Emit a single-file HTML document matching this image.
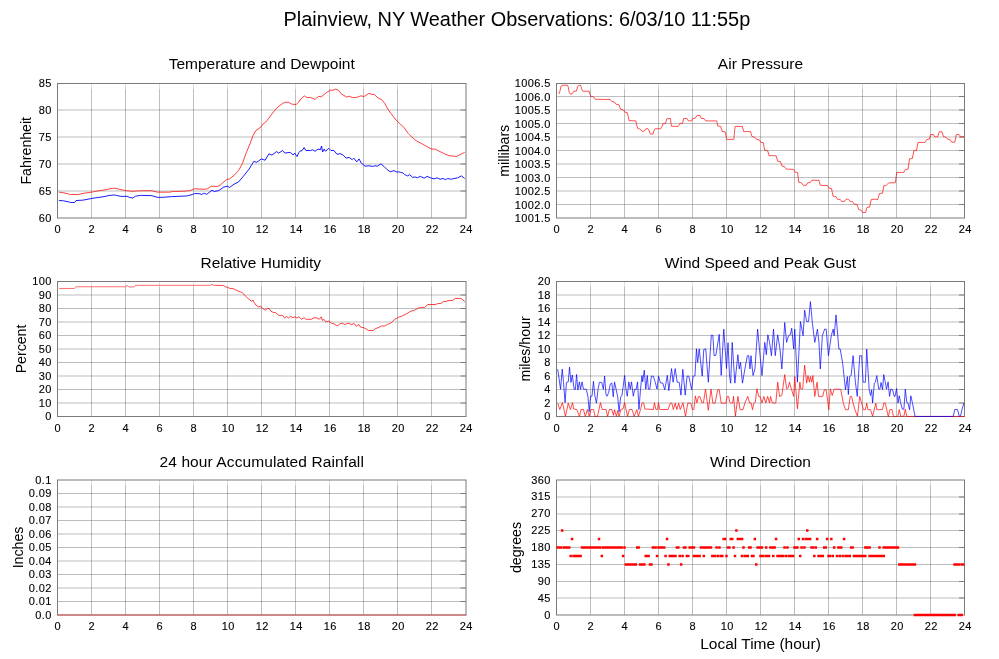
<!DOCTYPE html>
<html><head><meta charset="utf-8"><title>Plainview, NY Weather Observations</title>
<style>
html,body{margin:0;padding:0;background:#fff;}
svg{display:block;}
text{font-family:"Liberation Sans",sans-serif;fill:#000;}
.t{font-size:11px;letter-spacing:.4px;stroke:#000;stroke-width:.12px;}
.h{font-size:15.5px;}
.y{font-size:14px;}
.T{font-size:19.9px;}
.m{text-anchor:middle;}
.e{text-anchor:end;}
.g{stroke:#555;stroke-opacity:.39;stroke-width:1;fill:none;}
.b{stroke:#7a7a7a;stroke-width:1;fill:none;}
.k{stroke:#7a7a7a;stroke-width:1;fill:none;}
.w{stroke:#fff;stroke-opacity:.5;stroke-width:1;fill:none;}
.c{fill:none;stroke-linejoin:round;}
</style></head><body>
<svg width="999" height="659" viewBox="0 0 999 659">
<rect width="999" height="659" fill="#fff"/>
<text x="516.9" y="26" class="T m">Plainview, NY Weather Observations: 6/03/10 11:55p</text>
<g>
<path d="M57.5 191H466.0M57.5 164H466.0M57.5 137H466.0M57.5 110H466.0" class="g"/>
<path d="M91.5 83.5V218.0M125.5 83.5V218.0M159.5 83.5V218.0M193.5 83.5V218.0M227.5 83.5V218.0M261.5 83.5V218.0M295.5 83.5V218.0M329.5 83.5V218.0M363.5 83.5V218.0M397.5 83.5V218.0M431.5 83.5V218.0" class="g"/>
<path d="M460.5 191H466.0M460.5 164H466.0M460.5 137H466.0M460.5 110H466.0" class="k"/>
<path d="M91.5 84.0v5M125.5 84.0v5M159.5 84.0v5M193.5 84.0v5M227.5 84.0v5M261.5 84.0v5M295.5 84.0v5M329.5 84.0v5M363.5 84.0v5M397.5 84.0v5M431.5 84.0v5" class="w"/>
<rect x="57.5" y="83.5" width="408.5" height="134.5" class="b"/>
<polyline points="58.92,192.14 63.41,192.7 69.01,194.1 70.42,194.52 78.12,194.52 83.03,193.4 91.72,192.14 97.04,191.02 104.05,190.04 108.95,188.92 113.86,188.22 116.66,188.5 119.46,189.34 125.77,190.6 132.08,191.3 140.49,190.74 151.7,190.74 157.3,192.14 169.91,192.14 172.72,191.44 181.13,191.3 186.73,191.02 189.53,190.6 190,190.58 194.55,188.76 199.1,189.06 205.17,189.21 207.45,188.76 211.24,186.18 217.31,186.48 220.34,184.97 226.41,179.66 229.45,178.9 234,175.56 238.55,170.55 242.34,163.72 246.14,153.1 249.93,144 252.97,135.66 256,130.34 259.79,128.07 262.83,124.28 265.86,122 270.41,115.93 276.48,108.34 281.03,104.55 284.83,102.28 288.62,102.28 291.66,104.1 296.21,104.55 298.48,102.28 300.62,98.97 304.41,95.93 306.69,97.45 310.48,97.45 315.03,99.42 318.83,96.23 321.1,96.99 326.41,92.59 330.21,90.32 333.24,90.17 335.52,89.1 338.55,90.32 341.59,94.11 346.9,97.14 349.17,96.23 352.21,97.45 356.76,97.45 360.55,95.93 364.34,96.39 368.9,93.35 371.93,94.41 374.21,94.41 378,97.9 381.79,99.72 384.83,103.52 388.62,110.34 393.17,116.41 396.21,120.21 398.94,122.79 400.63,124.29 404.42,128.08 408.22,133.4 412.77,137.95 416.57,140.99 421.88,143.72 426.43,146.3 430.99,148.88 435.54,149.34 440.09,151.61 444.65,153.89 449.2,155.71 453.76,156.17 456.79,156.47 460.59,154.35 464.69,152.37" stroke="#ff0000" stroke-width="0.75" class="c"/><polyline points="58.92,200.41 63.41,200.83 69.01,201.95 70.42,202.51 74.62,202.51 76.02,200.55 83.03,200.13 91.72,198.45 97.04,197.61 104.05,196.63 108.95,195.51 113.86,194.94 116.66,195.51 120.87,196.35 127.17,196.35 129.27,197.33 132.78,198.03 135.58,196.21 140.49,195.37 151.7,195.65 157.3,197.33 162.91,197.33 171.32,196.63 181.13,196.21 186.73,195.93 189.53,195.23 190,195.28 194.55,193.61 199.1,193.61 201.38,194.37 204.41,193.31 206.69,194.37 212,190.28 214.28,191.49 218.83,190.58 223.38,187.24 227.17,186.18 229.45,187.54 234,184.21 238.55,181.93 243.1,176.62 249.17,169.03 251.45,165.24 253.72,161.45 256.76,162.21 259.03,160.69 261.31,158.87 265.1,160.23 268.9,153.86 271.93,155.08 276.48,151.59 278.76,153.1 282.55,150.52 284.83,153.1 290.14,152.34 293.17,154.92 294.69,153.1 296.97,156.59 298.94,152.34 299.86,151.31 302.14,150.55 304.11,147.52 305.93,150.55 310.48,150.55 312.76,149.79 315.03,151.31 318.07,149.03 320.34,149.79 321.56,146 322.62,152.07 324.14,149.03 325.66,151.31 328.69,148.28 330.97,150.55 334,150.55 337.03,154.34 340.07,153.59 343.1,155.1 346.14,158.14 349.17,157.38 352.21,159.66 353.72,158.14 356.76,161.93 359.03,158.9 361.31,163.14 365.1,166.18 368.9,165.72 372.69,166.48 374.97,165.72 377.24,166.18 381.03,163.9 384.07,166.48 387.1,169.52 390.14,171.79 393.93,170.58 396.97,172.1 398.94,171.79 400.63,172.41 402.9,172.87 404.42,174.38 407.46,175.9 409.73,174.69 412.77,177.42 415.05,176.96 417.32,177.72 420.36,176.36 424.16,178.18 427.19,176.36 430.23,177.72 434.02,178.94 437.06,177.87 440.09,179.24 443.13,178.48 445.41,179.7 447.69,178.48 450.72,179.24 453.76,178.63 457.55,177.87 461.35,175.9 464.69,178.48" stroke="#0000ff" stroke-width="0.9" class="c"/>
<text x="57.7" y="233" class="t m">0</text>
<text x="91.7" y="233" class="t m">2</text>
<text x="125.7" y="233" class="t m">4</text>
<text x="159.7" y="233" class="t m">6</text>
<text x="193.7" y="233" class="t m">8</text>
<text x="228.2" y="233" class="t m">10</text>
<text x="262.2" y="233" class="t m">12</text>
<text x="296.2" y="233" class="t m">14</text>
<text x="330.2" y="233" class="t m">16</text>
<text x="364.2" y="233" class="t m">18</text>
<text x="398.2" y="233" class="t m">20</text>
<text x="432.2" y="233" class="t m">22</text>
<text x="466.2" y="233" class="t m">24</text>
<text x="51.8" y="222" class="t e">60</text>
<text x="51.8" y="195" class="t e">65</text>
<text x="51.8" y="168" class="t e">70</text>
<text x="51.8" y="141" class="t e">75</text>
<text x="51.8" y="114" class="t e">80</text>
<text x="51.8" y="87" class="t e">85</text>
<text x="261.75" y="69.0" class="h m">Temperature and Dewpoint</text>
<text transform="translate(31.1,150.75) rotate(-90) scale(1.01,0.98)" class="y m">Fahrenheit</text>
</g>
<g>
<path d="M556.5 204.5H964.5M556.5 191H964.5M556.5 177.5H964.5M556.5 164H964.5M556.5 150.5H964.5M556.5 137H964.5M556.5 123.5H964.5M556.5 110H964.5M556.5 96.5H964.5" class="g"/>
<path d="M590.5 83.5V218.0M624.5 83.5V218.0M658.5 83.5V218.0M692.5 83.5V218.0M726.5 83.5V218.0M760.5 83.5V218.0M794.5 83.5V218.0M828.5 83.5V218.0M862.5 83.5V218.0M896.5 83.5V218.0M930.5 83.5V218.0" class="g"/>
<path d="M959.0 204.5H964.5M959.0 191H964.5M959.0 177.5H964.5M959.0 164H964.5M959.0 150.5H964.5M959.0 137H964.5M959.0 123.5H964.5M959.0 110H964.5M959.0 96.5H964.5" class="k"/>
<path d="M590.5 84.0v5M624.5 84.0v5M658.5 84.0v5M692.5 84.0v5M726.5 84.0v5M760.5 84.0v5M794.5 84.0v5M828.5 84.0v5M862.5 84.0v5M896.5 84.0v5M930.5 84.0v5" class="w"/>
<rect x="556.5" y="83.5" width="408.0" height="134.5" class="b"/>
<polyline points="558.85,94.09 559.95,91.01 561.06,86.06 562.16,85.29 567.66,85.29 568.43,87.71 569.31,92.66 570.42,94.09 572.07,93.76 573.72,91.34 576.47,91.01 577.57,86.61 578.67,85.29 580.55,85.29 581.43,87.71 582.31,90.79 583.08,91.23 589.13,91.23 590.02,94.31 590.79,96.52 593.54,96.74 595.19,99.27 610.06,99.49 611.71,101.47 614.46,102.02 616.11,104.22 618.86,104.77 620.52,109.18 623.27,109.95 624.92,112.26 627.12,112.48 628.22,116.34 628.99,120.52 635.93,120.96 636.7,125.15 637.8,128.45 639.78,129 641.99,131.2 644.19,131.2 645.84,128.78 648.04,128.78 649.47,131.2 650.25,133.95 653,134.17 654.1,130.1 655.2,128.78 660.71,128.78 662.03,126.25 662.91,123.82 664.01,123.6 665.51,123.34 666.83,118.72 670.46,118.5 671.34,126.21 678.17,126.43 679.82,123.45 682.57,123.34 683.67,118.5 686.98,118.5 688.41,120.92 691.38,120.92 692.81,118.5 695.24,118.17 696.89,115.64 699.86,115.42 701.29,118.39 704.04,118.5 705.7,120.92 716.71,120.92 717.81,126.1 720.78,126.43 722.21,131.38 725.3,131.93 726.62,139.42 733.77,139.42 735.1,126.43 742.36,126.43 743.68,131.6 750.51,131.6 751.94,136.56 754.69,137.11 756.35,139.31 759.1,139.64 760.75,142.39 763.28,142.61 764.6,150.1 767.69,150.65 769.01,155.61 776.17,155.78 777.75,161.25 780.54,161.61 782,166.1 784.43,166.47 786.25,169.14 793.53,169.38 795.11,172.17 797.54,172.42 798.75,182.25 801.42,182.74 803.25,185.29 806.28,185.29 807.49,182.86 810.17,182.49 811.74,180.31 819.03,180.31 820.24,185.29 827.53,185.53 829.11,188.32 831.53,188.57 832.99,196.09 836.03,196.7 837.6,199.25 840.28,199.49 841.73,201.56 844.53,201.31 846.1,199.25 848.53,199.25 849.99,201.31 852.42,201.56 854.24,204.11 857.03,204.35 858.73,209.57 860.92,210.06 862.74,212.48 865.53,212.48 866.99,207.38 869.66,207.14 871.24,199.49 874.27,199.25 877.71,199.49 879.53,193.42 882.56,193.18 883.78,185.78 886.2,185.53 888.63,182.86 895.31,182.74 896.76,172.43 903.8,172.43 905.38,169.39 908.05,169.15 909.5,158.83 912.3,158.59 913.87,150.58 916.54,150.34 918,142.45 925.04,142.45 926.86,139.42 929.29,139.17 930.86,134.56 933.53,134.56 934.99,136.99 937.78,136.75 939.36,131.77 942.03,131.77 943.49,136.63 945.67,136.99 947.49,139.17 949.92,139.42 951.74,142.21 954.77,142.21 956.35,134.56 959.02,134.56 960.84,136.75 963.87,136.99" stroke="#ff0000" stroke-width="0.68" class="c"/>
<text x="556.7" y="233" class="t m">0</text>
<text x="590.7" y="233" class="t m">2</text>
<text x="624.7" y="233" class="t m">4</text>
<text x="658.7" y="233" class="t m">6</text>
<text x="692.7" y="233" class="t m">8</text>
<text x="727.2" y="233" class="t m">10</text>
<text x="761.2" y="233" class="t m">12</text>
<text x="795.2" y="233" class="t m">14</text>
<text x="829.2" y="233" class="t m">16</text>
<text x="863.2" y="233" class="t m">18</text>
<text x="897.2" y="233" class="t m">20</text>
<text x="931.2" y="233" class="t m">22</text>
<text x="965.2" y="233" class="t m">24</text>
<text x="550.8" y="222" class="t e">1001.5</text>
<text x="550.8" y="209" class="t e">1002.0</text>
<text x="550.8" y="195" class="t e">1002.5</text>
<text x="550.8" y="182" class="t e">1003.0</text>
<text x="550.8" y="168" class="t e">1003.5</text>
<text x="550.8" y="155" class="t e">1004.0</text>
<text x="550.8" y="141" class="t e">1004.5</text>
<text x="550.8" y="128" class="t e">1005.0</text>
<text x="550.8" y="114" class="t e">1005.5</text>
<text x="550.8" y="101" class="t e">1006.0</text>
<text x="550.8" y="87" class="t e">1006.5</text>
<text x="760.5" y="69.0" class="h m">Air Pressure</text>
<text transform="translate(509.3,150.75) rotate(-90) scale(1.01,0.98)" class="y m">millibars</text>
</g>
<g>
<path d="M57.5 403H466.0M57.5 389.5H466.0M57.5 376H466.0M57.5 362.5H466.0M57.5 349H466.0M57.5 335.5H466.0M57.5 322H466.0M57.5 308.5H466.0M57.5 295H466.0" class="g"/>
<path d="M91.5 281.5V416.5M125.5 281.5V416.5M159.5 281.5V416.5M193.5 281.5V416.5M227.5 281.5V416.5M261.5 281.5V416.5M295.5 281.5V416.5M329.5 281.5V416.5M363.5 281.5V416.5M397.5 281.5V416.5M431.5 281.5V416.5" class="g"/>
<path d="M460.5 403H466.0M460.5 389.5H466.0M460.5 376H466.0M460.5 362.5H466.0M460.5 349H466.0M460.5 335.5H466.0M460.5 322H466.0M460.5 308.5H466.0M460.5 295H466.0" class="k"/>
<path d="M91.5 282.0v5M125.5 282.0v5M159.5 282.0v5M193.5 282.0v5M227.5 282.0v5M261.5 282.0v5M295.5 282.0v5M329.5 282.0v5M363.5 282.0v5M397.5 282.0v5M431.5 282.0v5" class="w"/>
<rect x="57.5" y="281.5" width="408.5" height="135.0" class="b"/>
<polyline points="59.2,288.45 74.34,288.45 76.02,286.77 125.42,286.77 127.1,285.51 128.99,286.98 133.83,286.98 135.93,285.3 210.56,285.3 212.03,284.25 213.71,285.3 214.76,285.3" stroke="#ff0000" stroke-width="0.58" class="c"/><polyline points="214.76,285.3 223.46,285.47 225.41,286.77 228.01,287.42 229.96,288.59 233.22,288.59 235.82,290.02 239.07,291.45 242.33,292.62 245.58,296.27 248.83,299.13 251.44,301.21 253.13,300.17 254.04,302.38 255.99,305.12 258.59,306.94 260.55,306.03 262.5,308.37 265.1,310.19 267.7,308.37 269.39,308.63 270.96,311.23 273.56,312.53 275.51,312.53 278.76,315.4 282.67,315.4 284.62,318 286.57,316.44 288.52,318 290.48,316.44 293.08,317.74 295.03,316.7 296.98,318.13 298.93,316.83 301.54,319.3 304.14,317.74 306.09,319.3 311.3,319.3 313.9,317.74 317.15,318 319.1,319.3 321.32,316.83 322.36,320.34 324.05,319.43 325.61,321.9 328.86,320.99 331.47,323.33 334.07,323.85 336.93,325.94 338.62,324.89 340,323.78 342.6,323.39 345.21,324.69 347.16,323.39 349.76,323.65 351.71,324.69 354.05,323.39 356.27,326.25 358.87,324.43 360.82,327.29 363.42,327.55 366.03,328.85 368.63,330.55 373.18,330.55 375.14,328.85 379.04,327.29 381.64,325.99 384.89,325.99 387.5,324.43 390.75,323.13 394.65,319.48 398.56,317.27 402.46,315.84 406.37,313.89 410.27,311.42 414.17,310.38 418.08,308.16 421.33,307.38 424.58,307.38 427.84,304.52 435.65,304.52 437.6,303.61 440.85,303.48 443.45,301.53 446.06,301.53 448.01,300.62 452.56,300.62 455.17,298.4 461.02,298.4 462.97,299.96 464.92,301.66" stroke="#ff0000" stroke-width="0.75" class="c"/>
<text x="57.7" y="432" class="t m">0</text>
<text x="91.7" y="432" class="t m">2</text>
<text x="125.7" y="432" class="t m">4</text>
<text x="159.7" y="432" class="t m">6</text>
<text x="193.7" y="432" class="t m">8</text>
<text x="228.2" y="432" class="t m">10</text>
<text x="262.2" y="432" class="t m">12</text>
<text x="296.2" y="432" class="t m">14</text>
<text x="330.2" y="432" class="t m">16</text>
<text x="364.2" y="432" class="t m">18</text>
<text x="398.2" y="432" class="t m">20</text>
<text x="432.2" y="432" class="t m">22</text>
<text x="466.2" y="432" class="t m">24</text>
<text x="51.8" y="420" class="t e">0</text>
<text x="51.8" y="407" class="t e">10</text>
<text x="51.8" y="393" class="t e">20</text>
<text x="51.8" y="380" class="t e">30</text>
<text x="51.8" y="366" class="t e">40</text>
<text x="51.8" y="353" class="t e">50</text>
<text x="51.8" y="339" class="t e">60</text>
<text x="51.8" y="326" class="t e">70</text>
<text x="51.8" y="312" class="t e">80</text>
<text x="51.8" y="299" class="t e">90</text>
<text x="51.8" y="285" class="t e">100</text>
<text x="260.75" y="268.0" class="h m">Relative Humidity</text>
<text transform="translate(26.2,349) rotate(-90) scale(1.01,0.98)" class="y m">Percent</text>
</g>
<g>
<path d="M556.5 403H964.5M556.5 389.5H964.5M556.5 376H964.5M556.5 362.5H964.5M556.5 349H964.5M556.5 335.5H964.5M556.5 322H964.5M556.5 308.5H964.5M556.5 295H964.5" class="g"/>
<path d="M590.5 281.5V416.5M624.5 281.5V416.5M658.5 281.5V416.5M692.5 281.5V416.5M726.5 281.5V416.5M760.5 281.5V416.5M794.5 281.5V416.5M828.5 281.5V416.5M862.5 281.5V416.5M896.5 281.5V416.5M930.5 281.5V416.5" class="g"/>
<path d="M959.0 403H964.5M959.0 389.5H964.5M959.0 376H964.5M959.0 362.5H964.5M959.0 349H964.5M959.0 335.5H964.5M959.0 322H964.5M959.0 308.5H964.5M959.0 295H964.5" class="k"/>
<path d="M590.5 282.0v5M624.5 282.0v5M658.5 282.0v5M692.5 282.0v5M726.5 282.0v5M760.5 282.0v5M794.5 282.0v5M828.5 282.0v5M862.5 282.0v5M896.5 282.0v5M930.5 282.0v5" class="w"/>
<rect x="556.5" y="281.5" width="408.0" height="135.0" class="b"/>
<polyline points="557.66,403.13 559.78,409.5 562.44,402.6 565.41,416.41 568.28,403.13 570.41,409.5 572.53,402.6 573.6,408.97 576.78,409.5 579.44,416.41 581.03,409.5 583.48,409.5 585.28,416.41 587.41,409.5 589.21,416.41 590.91,409.5 593.47,409.5 595.17,416.41 597.5,416.41 600.48,402.6 602.28,409.5 606,409.5 607.6,416.41 609.4,409.5 611.85,409.5 613.44,415.35 614.5,409.5 616.42,416.41 617.69,410.57 619.07,416.41 620.88,409.5 623,408.97 624.6,402.6 627.57,416.41 629.38,409.5 632.04,409.5 634.16,416.41 636.82,409.5 638.41,416.41 640.54,409.5 642.13,402.6 643.72,403.13 644.79,408.97 653.36,409.54 654.42,402.72 655.94,409.54 657.45,409.54 658.52,402.72 659.73,409.54 668.08,409.54 670.35,403.17 671.87,403.17 673.39,409.54 675.21,403.17 676.88,409.54 678.7,403.17 680.22,409.54 682.95,402.72 685.53,416.37 687.81,403.17 690.84,403.17 692.36,409.54 693.88,409.54 695.4,395.89 696.91,402.72 698.43,396.64 699.95,396.64 701.92,402.72 703.44,402.72 705.56,389.06 708.3,410.3 711.03,389.06 712.85,403.17 715.13,403.17 717.71,389.81 719.22,389.81 721.2,403.17 725.75,403.17 727.27,396.34 728.79,396.64 729.54,401.96 730.69,403.06 732.58,403.06 733.53,396.42 735.43,416.33 737.89,396.42 740.17,409.69 743.01,409.69 744.91,403.06 747.75,396.42 749.64,403.06 751.16,403.06 752.49,409.69 753.82,403.06 755.33,402.11 756.85,388.84 758.74,396.42 760.07,396.42 761.97,403.06 763.86,396.42 765.76,403.06 767.65,396.42 769.55,403.06 770.5,396.42 772.39,403.06 775.81,403.06 777.7,382.2 779.6,396.42 781.87,395.47 784.72,374.62 786.61,388.84 788.13,387.89 789.45,382.2 791.35,388.84 793.63,396.42 794.76,376.52 797.42,408.74 799.88,382.2 800.83,388.84 802.73,388.84 804.62,365.14 806.64,383.15 807.96,375.57 809.48,382.2 810.43,376.52 811.75,382.2 812.89,375.57 814.79,396.42 817.06,382.2 818.58,396.42 822.75,396.42 824.27,389.79 826.16,389.79 828.82,409.69 830.33,388.84 832.23,395.47 834.12,389.22 840.76,389.22 843.22,403.06 845.5,409.69 848.34,409.69 850.24,396.42 851.56,396.42 853.08,403.06 854.98,409.69 857.44,416.33 859.72,396.42 861.61,403.06 863.51,409.69 865.4,409.69 866.73,403.06 867.87,409.69 870.52,409.69 872.61,416.33 875.83,403.06 876.78,409.69 878.67,409.69 882.52,409.52 883.74,403.09 885.31,403.09 888.35,417.04 889.8,409.76 891.99,409.52 893.44,416.44 897.81,416.44 899.27,409.52 900.72,416.44 903.88,416.19 905.33,409.16 906.79,416.44 964.54,416.44" stroke="#ff0000" stroke-width="0.7" class="c"/><polyline points="557.66,369.13 558.72,376.03 560.53,389.32 562.23,369.13 563.5,382.41 565.09,402.6 566.48,382.41 568.28,381.88 569.56,367 570.94,382.41 572.32,374.97 574.13,389.32 575.4,389.32 576.57,374.44 577.85,389.85 579.44,381.88 580.5,389.32 582.1,381.88 583.48,389.1 586.35,389.32 587.94,396.75 589.21,411.63 590.6,396.22 591.98,396.22 593.47,381.35 594.85,395.69 596.44,403.13 598.03,389.32 599.42,382.41 601.75,382.41 603.35,389.32 604.62,376.03 606,394.63 607.07,396.22 608.66,392.5 610.25,384 611.85,382.94 613.23,396.75 614.5,381.88 616.1,389.32 617.69,396.75 619.07,411.63 620.67,396.75 621.94,395.69 624.6,375.5 625.98,389.32 627.26,396.22 628.85,381.88 630.23,389.32 631.51,381.88 633.31,396.22 634.69,389.32 636.29,389.32 637.56,381.88 638.94,409.5 640.54,389.32 641.92,375.5 642.66,381.88 644.26,370.19 645.77,389.06 647.28,375.4 648.35,389.06 649.87,389.06 651.38,376.16 653.36,376.16 655.18,382.23 657,389.06 658.52,376.16 660.49,382.98 662.77,382.98 664.74,389.81 667.32,375.4 668.84,390.57 671.57,368.57 673.09,382.23 675.21,368.57 677.18,382.23 679.16,382.23 680.98,395.13 682.8,369.33 685.23,395.13 687.05,376.16 688.87,376.16 691.6,389.81 693.12,376.16 694.94,375.85 696.46,348.84 697.67,362.5 699.19,348.84 702.23,376.16 703.74,349.6 705.72,348.84 708.3,382.23 711.33,335.18 712.85,335.18 714.06,355.67 715.89,355.21 719.22,334.42 721.2,375.4 723.78,329.11 726.51,368.57 728.03,342.77 729.54,376.16 730.69,383.15 732.2,342.39 734.86,383.15 737.89,354.72 739.22,368.93 740.55,362.3 742.44,383.15 744.91,368.93 747.37,355.66 748.7,355.66 750.02,368.93 750.97,355.66 753.06,375.57 754.95,368.93 757.61,329.12 760.07,355.66 761.97,375.57 764.81,342.39 766.33,354.72 767.84,334.81 769.55,342.39 771.45,355.66 773.53,329.12 775.24,355.66 777.7,334.81 779.98,349.03 781.87,368.93 784.72,322.49 786.61,342.39 788.51,335.76 790.4,334.81 791.73,328.18 793.63,349.03 794.76,329.12 797.42,382.2 800.45,321.54 803.1,335.76 804.62,310.17 806.64,321.54 808.53,321.54 810.43,301.64 812.32,322.49 814.79,342.39 817.44,329.12 818.96,342.39 820.28,368.93 822.37,335.76 824.64,329.12 826.16,329.12 828.44,355.66 831.28,335.76 833.18,329.12 834.12,335.76 836.02,314.91 838.86,349.03 840.19,349.03 842.65,363.25 845.5,389.79 847.39,376.52 848.34,394.53 849.67,376.52 851.18,375.57 853.08,355.66 855.36,382.2 857.25,396.42 859.72,355.66 861.61,355.66 863.13,382.2 865.4,382.2 866.73,349.03 869.19,389.79 870.52,395.47 871.66,389.79 872.61,403.06 874.31,383.15 875.45,382.2 876.78,375.57 878.67,388.84 879.85,389.14 881.07,382.46 882.52,389.74 883.74,374.58 885.31,382.46 886.53,389.14 888.1,381.86 889.56,396.42 890.77,389.14 892.59,389.74 894.17,396.42 895.02,396.42 896.6,388.53 898.05,403.09 899.27,395.81 900.72,403.09 902.3,409.16 903.88,409.16 905.33,389.14 906.79,402.48 908,403.09 909.58,409.76 910.79,395.81 912.37,402.48 915.04,416.44 953.26,416.44 954.83,409.52 957.5,409.52 959.32,416.44 960.54,415.83 962.11,409.16 963.93,403.09" stroke="#0000ff" stroke-width="0.7" class="c"/>
<text x="556.7" y="432" class="t m">0</text>
<text x="590.7" y="432" class="t m">2</text>
<text x="624.7" y="432" class="t m">4</text>
<text x="658.7" y="432" class="t m">6</text>
<text x="692.7" y="432" class="t m">8</text>
<text x="727.2" y="432" class="t m">10</text>
<text x="761.2" y="432" class="t m">12</text>
<text x="795.2" y="432" class="t m">14</text>
<text x="829.2" y="432" class="t m">16</text>
<text x="863.2" y="432" class="t m">18</text>
<text x="897.2" y="432" class="t m">20</text>
<text x="931.2" y="432" class="t m">22</text>
<text x="965.2" y="432" class="t m">24</text>
<text x="550.8" y="420" class="t e">0</text>
<text x="550.8" y="407" class="t e">2</text>
<text x="550.8" y="393" class="t e">4</text>
<text x="550.8" y="380" class="t e">6</text>
<text x="550.8" y="366" class="t e">8</text>
<text x="550.8" y="353" class="t e">10</text>
<text x="550.8" y="339" class="t e">12</text>
<text x="550.8" y="326" class="t e">14</text>
<text x="550.8" y="312" class="t e">16</text>
<text x="550.8" y="299" class="t e">18</text>
<text x="550.8" y="285" class="t e">20</text>
<text x="760.5" y="268.0" class="h m">Wind Speed and Peak Gust</text>
<text transform="translate(530.3,349) rotate(-90) scale(1.01,0.98)" class="y m">miles/hour</text>
</g>
<g>
<path d="M57.5 601.5H466.0M57.5 588H466.0M57.5 574.5H466.0M57.5 561H466.0M57.5 547.5H466.0M57.5 534H466.0M57.5 520.5H466.0M57.5 507H466.0M57.5 493.5H466.0" class="g"/>
<path d="M91.5 480.0V615.0M125.5 480.0V615.0M159.5 480.0V615.0M193.5 480.0V615.0M227.5 480.0V615.0M261.5 480.0V615.0M295.5 480.0V615.0M329.5 480.0V615.0M363.5 480.0V615.0M397.5 480.0V615.0M431.5 480.0V615.0" class="g"/>
<path d="M460.5 601.5H466.0M460.5 588H466.0M460.5 574.5H466.0M460.5 561H466.0M460.5 547.5H466.0M460.5 534H466.0M460.5 520.5H466.0M460.5 507H466.0M460.5 493.5H466.0" class="k"/>
<path d="M91.5 480.5v5M125.5 480.5v5M159.5 480.5v5M193.5 480.5v5M227.5 480.5v5M261.5 480.5v5M295.5 480.5v5M329.5 480.5v5M363.5 480.5v5M397.5 480.5v5M431.5 480.5v5" class="w"/>
<rect x="57.5" y="480.0" width="408.5" height="135.0" class="b"/>
<polyline points="57.5,615 466,615" stroke="#ff0000" stroke-width="0.56" class="c"/>
<text x="57.7" y="630" class="t m">0</text>
<text x="91.7" y="630" class="t m">2</text>
<text x="125.7" y="630" class="t m">4</text>
<text x="159.7" y="630" class="t m">6</text>
<text x="193.7" y="630" class="t m">8</text>
<text x="228.2" y="630" class="t m">10</text>
<text x="262.2" y="630" class="t m">12</text>
<text x="296.2" y="630" class="t m">14</text>
<text x="330.2" y="630" class="t m">16</text>
<text x="364.2" y="630" class="t m">18</text>
<text x="398.2" y="630" class="t m">20</text>
<text x="432.2" y="630" class="t m">22</text>
<text x="466.2" y="630" class="t m">24</text>
<text x="51.8" y="619" class="t e">0.0</text>
<text x="51.8" y="605" class="t e">0.01</text>
<text x="51.8" y="592" class="t e">0.02</text>
<text x="51.8" y="578" class="t e">0.03</text>
<text x="51.8" y="565" class="t e">0.04</text>
<text x="51.8" y="551" class="t e">0.05</text>
<text x="51.8" y="538" class="t e">0.06</text>
<text x="51.8" y="524" class="t e">0.07</text>
<text x="51.8" y="511" class="t e">0.08</text>
<text x="51.8" y="497" class="t e">0.09</text>
<text x="51.8" y="484" class="t e">0.1</text>
<text x="261.75" y="466.5" class="h m" style="letter-spacing:0.1px">24 hour Accumulated Rainfall</text>
<text transform="translate(22.5,547.5) rotate(-90) scale(1.01,0.98)" class="y m">Inches</text>
</g>
<g>
<path d="M556.5 598H964.5M556.5 581.5H964.5M556.5 564.5H964.5M556.5 547.5H964.5M556.5 530.5H964.5M556.5 514H964.5M556.5 497H964.5" class="g"/>
<path d="M590.5 480.0V615.0M624.5 480.0V615.0M658.5 480.0V615.0M692.5 480.0V615.0M726.5 480.0V615.0M760.5 480.0V615.0M794.5 480.0V615.0M828.5 480.0V615.0M862.5 480.0V615.0M896.5 480.0V615.0M930.5 480.0V615.0" class="g"/>
<path d="M959.0 598H964.5M959.0 581.5H964.5M959.0 564.5H964.5M959.0 547.5H964.5M959.0 530.5H964.5M959.0 514H964.5M959.0 497H964.5" class="k"/>
<path d="M590.5 480.5v5M624.5 480.5v5M658.5 480.5v5M692.5 480.5v5M726.5 480.5v5M760.5 480.5v5M794.5 480.5v5M828.5 480.5v5M862.5 480.5v5M896.5 480.5v5M930.5 480.5v5" class="w"/>
<rect x="556.5" y="480.0" width="408.0" height="135.0" class="b"/>
<path d="M556.67 546.25h2.5v2.5h-2.5zM558.08 546.25h2.5v2.5h-2.5zM559.5 546.25h2.5v2.5h-2.5zM560.92 529.35h2.5v2.5h-2.5zM562.33 546.25h2.5v2.5h-2.5zM563.75 546.25h2.5v2.5h-2.5zM565.17 546.25h2.5v2.5h-2.5zM566.58 546.25h2.5v2.5h-2.5zM568 546.25h2.5v2.5h-2.5zM569.42 554.65h2.5v2.5h-2.5zM570.83 537.85h2.5v2.5h-2.5zM572.25 554.65h2.5v2.5h-2.5zM573.67 554.65h2.5v2.5h-2.5zM575.08 554.65h2.5v2.5h-2.5zM576.5 554.65h2.5v2.5h-2.5zM577.92 554.65h2.5v2.5h-2.5zM579.33 554.65h2.5v2.5h-2.5zM580.75 546.25h2.5v2.5h-2.5zM582.17 546.25h2.5v2.5h-2.5zM583.58 546.25h2.5v2.5h-2.5zM585 546.25h2.5v2.5h-2.5zM586.42 546.25h2.5v2.5h-2.5zM587.83 546.25h2.5v2.5h-2.5zM589.25 546.25h2.5v2.5h-2.5zM590.67 546.25h2.5v2.5h-2.5zM592.08 546.25h2.5v2.5h-2.5zM593.5 546.25h2.5v2.5h-2.5zM594.92 546.25h2.5v2.5h-2.5zM596.33 546.25h2.5v2.5h-2.5zM597.75 537.85h2.5v2.5h-2.5zM597.75 546.25h2.5v2.5h-2.5zM599.17 546.25h2.5v2.5h-2.5zM600.58 554.65h2.5v2.5h-2.5zM602 546.25h2.5v2.5h-2.5zM603.42 546.25h2.5v2.5h-2.5zM604.83 546.25h2.5v2.5h-2.5zM606.25 546.25h2.5v2.5h-2.5zM607.67 546.25h2.5v2.5h-2.5zM609.08 546.25h2.5v2.5h-2.5zM610.5 546.25h2.5v2.5h-2.5zM611.92 546.25h2.5v2.5h-2.5zM613.33 546.25h2.5v2.5h-2.5zM614.75 546.25h2.5v2.5h-2.5zM616.17 546.25h2.5v2.5h-2.5zM617.58 546.25h2.5v2.5h-2.5zM619 546.25h2.5v2.5h-2.5zM620.42 546.25h2.5v2.5h-2.5zM621.83 554.65h2.5v2.5h-2.5zM623.25 546.25h2.5v2.5h-2.5zM624.67 563.15h2.5v2.5h-2.5zM626.08 563.15h2.5v2.5h-2.5zM627.5 563.15h2.5v2.5h-2.5zM628.92 563.15h2.5v2.5h-2.5zM630.33 563.15h2.5v2.5h-2.5zM631.75 563.15h2.5v2.5h-2.5zM633.17 563.15h2.5v2.5h-2.5zM634.58 563.15h2.5v2.5h-2.5zM636 546.25h2.5v2.5h-2.5zM637.42 546.25h2.5v2.5h-2.5zM638.83 563.15h2.5v2.5h-2.5zM640.25 563.15h2.5v2.5h-2.5zM641.67 563.15h2.5v2.5h-2.5zM643.08 563.15h2.5v2.5h-2.5zM644.5 554.65h2.5v2.5h-2.5zM645.92 554.65h2.5v2.5h-2.5zM647.33 554.65h2.5v2.5h-2.5zM648.75 563.15h2.5v2.5h-2.5zM650.17 563.15h2.5v2.5h-2.5zM651.58 546.25h2.5v2.5h-2.5zM653 546.25h2.5v2.5h-2.5zM654.42 546.25h2.5v2.5h-2.5zM655.83 554.65h2.5v2.5h-2.5zM657.25 546.25h2.5v2.5h-2.5zM658.67 546.25h2.5v2.5h-2.5zM660.08 546.25h2.5v2.5h-2.5zM661.5 546.25h2.5v2.5h-2.5zM662.92 546.25h2.5v2.5h-2.5zM664.33 554.65h2.5v2.5h-2.5zM665.75 537.85h2.5v2.5h-2.5zM667.17 563.15h2.5v2.5h-2.5zM668.58 554.65h2.5v2.5h-2.5zM670 554.65h2.5v2.5h-2.5zM671.42 554.65h2.5v2.5h-2.5zM672.83 554.65h2.5v2.5h-2.5zM674.25 554.65h2.5v2.5h-2.5zM675.67 546.25h2.5v2.5h-2.5zM677.08 546.25h2.5v2.5h-2.5zM678.5 554.65h2.5v2.5h-2.5zM679.92 563.15h2.5v2.5h-2.5zM681.33 554.65h2.5v2.5h-2.5zM682.75 546.25h2.5v2.5h-2.5zM684.17 546.25h2.5v2.5h-2.5zM685.58 554.65h2.5v2.5h-2.5zM687 554.65h2.5v2.5h-2.5zM688.42 546.25h2.5v2.5h-2.5zM689.83 546.25h2.5v2.5h-2.5zM691.25 546.25h2.5v2.5h-2.5zM692.67 546.25h2.5v2.5h-2.5zM692.67 554.65h2.5v2.5h-2.5zM694.08 554.65h2.5v2.5h-2.5zM695.5 554.65h2.5v2.5h-2.5zM696.92 554.65h2.5v2.5h-2.5zM698.33 554.65h2.5v2.5h-2.5zM699.75 546.25h2.5v2.5h-2.5zM701.17 546.25h2.5v2.5h-2.5zM702.58 546.25h2.5v2.5h-2.5zM702.58 554.65h2.5v2.5h-2.5zM704 546.25h2.5v2.5h-2.5zM705.42 546.25h2.5v2.5h-2.5zM706.83 546.25h2.5v2.5h-2.5zM708.25 546.25h2.5v2.5h-2.5zM709.67 546.25h2.5v2.5h-2.5zM711.08 554.65h2.5v2.5h-2.5zM712.5 554.65h2.5v2.5h-2.5zM713.92 554.65h2.5v2.5h-2.5zM715.33 546.25h2.5v2.5h-2.5zM716.75 554.65h2.5v2.5h-2.5zM718.17 546.25h2.5v2.5h-2.5zM719.58 554.65h2.5v2.5h-2.5zM721 554.65h2.5v2.5h-2.5zM722.42 537.85h2.5v2.5h-2.5zM723.83 537.85h2.5v2.5h-2.5zM725.25 554.65h2.5v2.5h-2.5zM726.67 546.25h2.5v2.5h-2.5zM728.08 546.25h2.5v2.5h-2.5zM729.5 537.85h2.5v2.5h-2.5zM730.92 537.85h2.5v2.5h-2.5zM732.33 546.25h2.5v2.5h-2.5zM733.75 554.65h2.5v2.5h-2.5zM735.17 529.35h2.5v2.5h-2.5zM736.58 537.85h2.5v2.5h-2.5zM738 537.85h2.5v2.5h-2.5zM739.42 537.85h2.5v2.5h-2.5zM740.83 537.85h2.5v2.5h-2.5zM740.83 554.65h2.5v2.5h-2.5zM742.25 546.25h2.5v2.5h-2.5zM743.67 554.65h2.5v2.5h-2.5zM745.08 554.65h2.5v2.5h-2.5zM746.5 554.65h2.5v2.5h-2.5zM747.92 546.25h2.5v2.5h-2.5zM749.33 546.25h2.5v2.5h-2.5zM750.75 554.65h2.5v2.5h-2.5zM752.17 554.65h2.5v2.5h-2.5zM753.58 537.85h2.5v2.5h-2.5zM755 563.15h2.5v2.5h-2.5zM756.42 546.25h2.5v2.5h-2.5zM757.83 546.25h2.5v2.5h-2.5zM759.25 546.25h2.5v2.5h-2.5zM759.25 554.65h2.5v2.5h-2.5zM760.67 546.25h2.5v2.5h-2.5zM760.67 554.65h2.5v2.5h-2.5zM762.08 554.65h2.5v2.5h-2.5zM764.92 546.25h2.5v2.5h-2.5zM764.92 554.65h2.5v2.5h-2.5zM766.33 554.65h2.5v2.5h-2.5zM767.75 554.65h2.5v2.5h-2.5zM769.17 546.25h2.5v2.5h-2.5zM770.58 546.25h2.5v2.5h-2.5zM772 546.25h2.5v2.5h-2.5zM772 554.65h2.5v2.5h-2.5zM773.42 546.25h2.5v2.5h-2.5zM774.83 537.85h2.5v2.5h-2.5zM776.25 554.65h2.5v2.5h-2.5zM777.67 554.65h2.5v2.5h-2.5zM779.08 554.65h2.5v2.5h-2.5zM780.5 554.65h2.5v2.5h-2.5zM781.92 554.65h2.5v2.5h-2.5zM783.33 546.25h2.5v2.5h-2.5zM784.75 554.65h2.5v2.5h-2.5zM786.17 546.25h2.5v2.5h-2.5zM787.58 554.65h2.5v2.5h-2.5zM789 554.65h2.5v2.5h-2.5zM790.42 554.65h2.5v2.5h-2.5zM791.83 554.65h2.5v2.5h-2.5zM793.25 546.25h2.5v2.5h-2.5zM794.67 546.25h2.5v2.5h-2.5zM796.08 546.25h2.5v2.5h-2.5zM797.5 537.85h2.5v2.5h-2.5zM798.92 554.65h2.5v2.5h-2.5zM800.33 546.25h2.5v2.5h-2.5zM801.75 537.85h2.5v2.5h-2.5zM803.17 546.25h2.5v2.5h-2.5zM804.58 537.85h2.5v2.5h-2.5zM806 529.35h2.5v2.5h-2.5zM806 537.85h2.5v2.5h-2.5zM807.42 537.85h2.5v2.5h-2.5zM808.83 537.85h2.5v2.5h-2.5zM810.25 546.25h2.5v2.5h-2.5zM811.67 546.25h2.5v2.5h-2.5zM813.08 554.65h2.5v2.5h-2.5zM814.5 546.25h2.5v2.5h-2.5zM815.92 537.85h2.5v2.5h-2.5zM817.33 554.65h2.5v2.5h-2.5zM818.75 554.65h2.5v2.5h-2.5zM820.17 554.65h2.5v2.5h-2.5zM821.58 554.65h2.5v2.5h-2.5zM823 546.25h2.5v2.5h-2.5zM824.42 546.25h2.5v2.5h-2.5zM825.83 537.85h2.5v2.5h-2.5zM827.25 554.65h2.5v2.5h-2.5zM828.67 554.65h2.5v2.5h-2.5zM830.08 537.85h2.5v2.5h-2.5zM831.5 554.65h2.5v2.5h-2.5zM832.92 546.25h2.5v2.5h-2.5zM835.75 554.65h2.5v2.5h-2.5zM837.17 546.25h2.5v2.5h-2.5zM838.58 546.25h2.5v2.5h-2.5zM838.58 554.65h2.5v2.5h-2.5zM840 546.25h2.5v2.5h-2.5zM841.42 554.65h2.5v2.5h-2.5zM842.83 537.85h2.5v2.5h-2.5zM844.25 554.65h2.5v2.5h-2.5zM845.67 554.65h2.5v2.5h-2.5zM847.08 554.65h2.5v2.5h-2.5zM848.5 554.65h2.5v2.5h-2.5zM849.92 546.25h2.5v2.5h-2.5zM851.33 546.25h2.5v2.5h-2.5zM852.75 554.65h2.5v2.5h-2.5zM854.17 554.65h2.5v2.5h-2.5zM855.58 554.65h2.5v2.5h-2.5zM857 554.65h2.5v2.5h-2.5zM858.42 554.65h2.5v2.5h-2.5zM859.83 554.65h2.5v2.5h-2.5zM861.25 554.65h2.5v2.5h-2.5zM862.67 554.65h2.5v2.5h-2.5zM864.08 546.25h2.5v2.5h-2.5zM864.08 554.65h2.5v2.5h-2.5zM865.5 546.25h2.5v2.5h-2.5zM866.92 546.25h2.5v2.5h-2.5zM868.33 546.25h2.5v2.5h-2.5zM868.33 554.65h2.5v2.5h-2.5zM869.75 554.65h2.5v2.5h-2.5zM871.17 554.65h2.5v2.5h-2.5zM872.58 554.65h2.5v2.5h-2.5zM874 554.65h2.5v2.5h-2.5zM875.42 554.65h2.5v2.5h-2.5zM876.83 554.65h2.5v2.5h-2.5zM878.25 546.25h2.5v2.5h-2.5zM878.25 554.65h2.5v2.5h-2.5zM879.67 554.65h2.5v2.5h-2.5zM881.08 554.65h2.5v2.5h-2.5zM882.5 546.25h2.5v2.5h-2.5zM882.5 554.65h2.5v2.5h-2.5zM883.92 546.25h2.5v2.5h-2.5zM885.33 546.25h2.5v2.5h-2.5zM886.75 546.25h2.5v2.5h-2.5zM888.17 546.25h2.5v2.5h-2.5zM889.58 546.25h2.5v2.5h-2.5zM891 546.25h2.5v2.5h-2.5zM892.42 546.25h2.5v2.5h-2.5zM893.83 546.25h2.5v2.5h-2.5zM895.25 546.25h2.5v2.5h-2.5zM896.67 546.25h2.5v2.5h-2.5zM898.08 563.15h2.5v2.5h-2.5zM899.5 563.15h2.5v2.5h-2.5zM900.92 563.15h2.5v2.5h-2.5zM902.33 563.15h2.5v2.5h-2.5zM903.75 563.15h2.5v2.5h-2.5zM905.17 563.15h2.5v2.5h-2.5zM906.58 563.15h2.5v2.5h-2.5zM908 563.15h2.5v2.5h-2.5zM909.42 563.15h2.5v2.5h-2.5zM910.83 563.15h2.5v2.5h-2.5zM912.25 563.15h2.5v2.5h-2.5zM913.67 563.15h2.5v2.5h-2.5zM913.67 613.75h2.5v2.5h-2.5zM915.08 613.75h2.5v2.5h-2.5zM916.5 613.75h2.5v2.5h-2.5zM917.92 613.75h2.5v2.5h-2.5zM919.33 613.75h2.5v2.5h-2.5zM920.75 613.75h2.5v2.5h-2.5zM922.17 613.75h2.5v2.5h-2.5zM923.58 613.75h2.5v2.5h-2.5zM925 613.75h2.5v2.5h-2.5zM926.42 613.75h2.5v2.5h-2.5zM927.83 613.75h2.5v2.5h-2.5zM929.25 613.75h2.5v2.5h-2.5zM930.67 613.75h2.5v2.5h-2.5zM932.08 613.75h2.5v2.5h-2.5zM933.5 613.75h2.5v2.5h-2.5zM934.92 613.75h2.5v2.5h-2.5zM936.33 613.75h2.5v2.5h-2.5zM937.75 613.75h2.5v2.5h-2.5zM939.17 613.75h2.5v2.5h-2.5zM940.58 613.75h2.5v2.5h-2.5zM942 613.75h2.5v2.5h-2.5zM943.42 613.75h2.5v2.5h-2.5zM944.83 613.75h2.5v2.5h-2.5zM946.25 613.75h2.5v2.5h-2.5zM947.67 613.75h2.5v2.5h-2.5zM949.08 613.75h2.5v2.5h-2.5zM950.5 613.75h2.5v2.5h-2.5zM951.92 613.75h2.5v2.5h-2.5zM953.33 563.15h2.5v2.5h-2.5zM953.33 613.75h2.5v2.5h-2.5zM954.75 563.15h2.5v2.5h-2.5zM956.17 563.15h2.5v2.5h-2.5zM957.58 563.15h2.5v2.5h-2.5zM957.58 613.75h2.5v2.5h-2.5zM959 613.75h2.5v2.5h-2.5zM960.42 563.15h2.5v2.5h-2.5zM960.42 613.75h2.5v2.5h-2.5zM961.83 563.15h2.5v2.5h-2.5z" fill="#ff0000"/>
<text x="556.7" y="630" class="t m">0</text>
<text x="590.7" y="630" class="t m">2</text>
<text x="624.7" y="630" class="t m">4</text>
<text x="658.7" y="630" class="t m">6</text>
<text x="692.7" y="630" class="t m">8</text>
<text x="727.2" y="630" class="t m">10</text>
<text x="761.2" y="630" class="t m">12</text>
<text x="795.2" y="630" class="t m">14</text>
<text x="829.2" y="630" class="t m">16</text>
<text x="863.2" y="630" class="t m">18</text>
<text x="897.2" y="630" class="t m">20</text>
<text x="931.2" y="630" class="t m">22</text>
<text x="965.2" y="630" class="t m">24</text>
<text x="550.8" y="619" class="t e">0</text>
<text x="550.8" y="602" class="t e">45</text>
<text x="550.8" y="585" class="t e">90</text>
<text x="550.8" y="568" class="t e">135</text>
<text x="550.8" y="551" class="t e">180</text>
<text x="550.8" y="534" class="t e">225</text>
<text x="550.8" y="517" class="t e">270</text>
<text x="550.8" y="500" class="t e">315</text>
<text x="550.8" y="484" class="t e">360</text>
<text x="760.5" y="466.5" class="h m">Wind Direction</text>
<text transform="translate(520.9,547.5) rotate(-90) scale(1.01,0.98)" class="y m">degrees</text>
<text x="760.5" y="648.5" class="h m">Local Time (hour)</text>
</g>
</svg>
</body></html>
